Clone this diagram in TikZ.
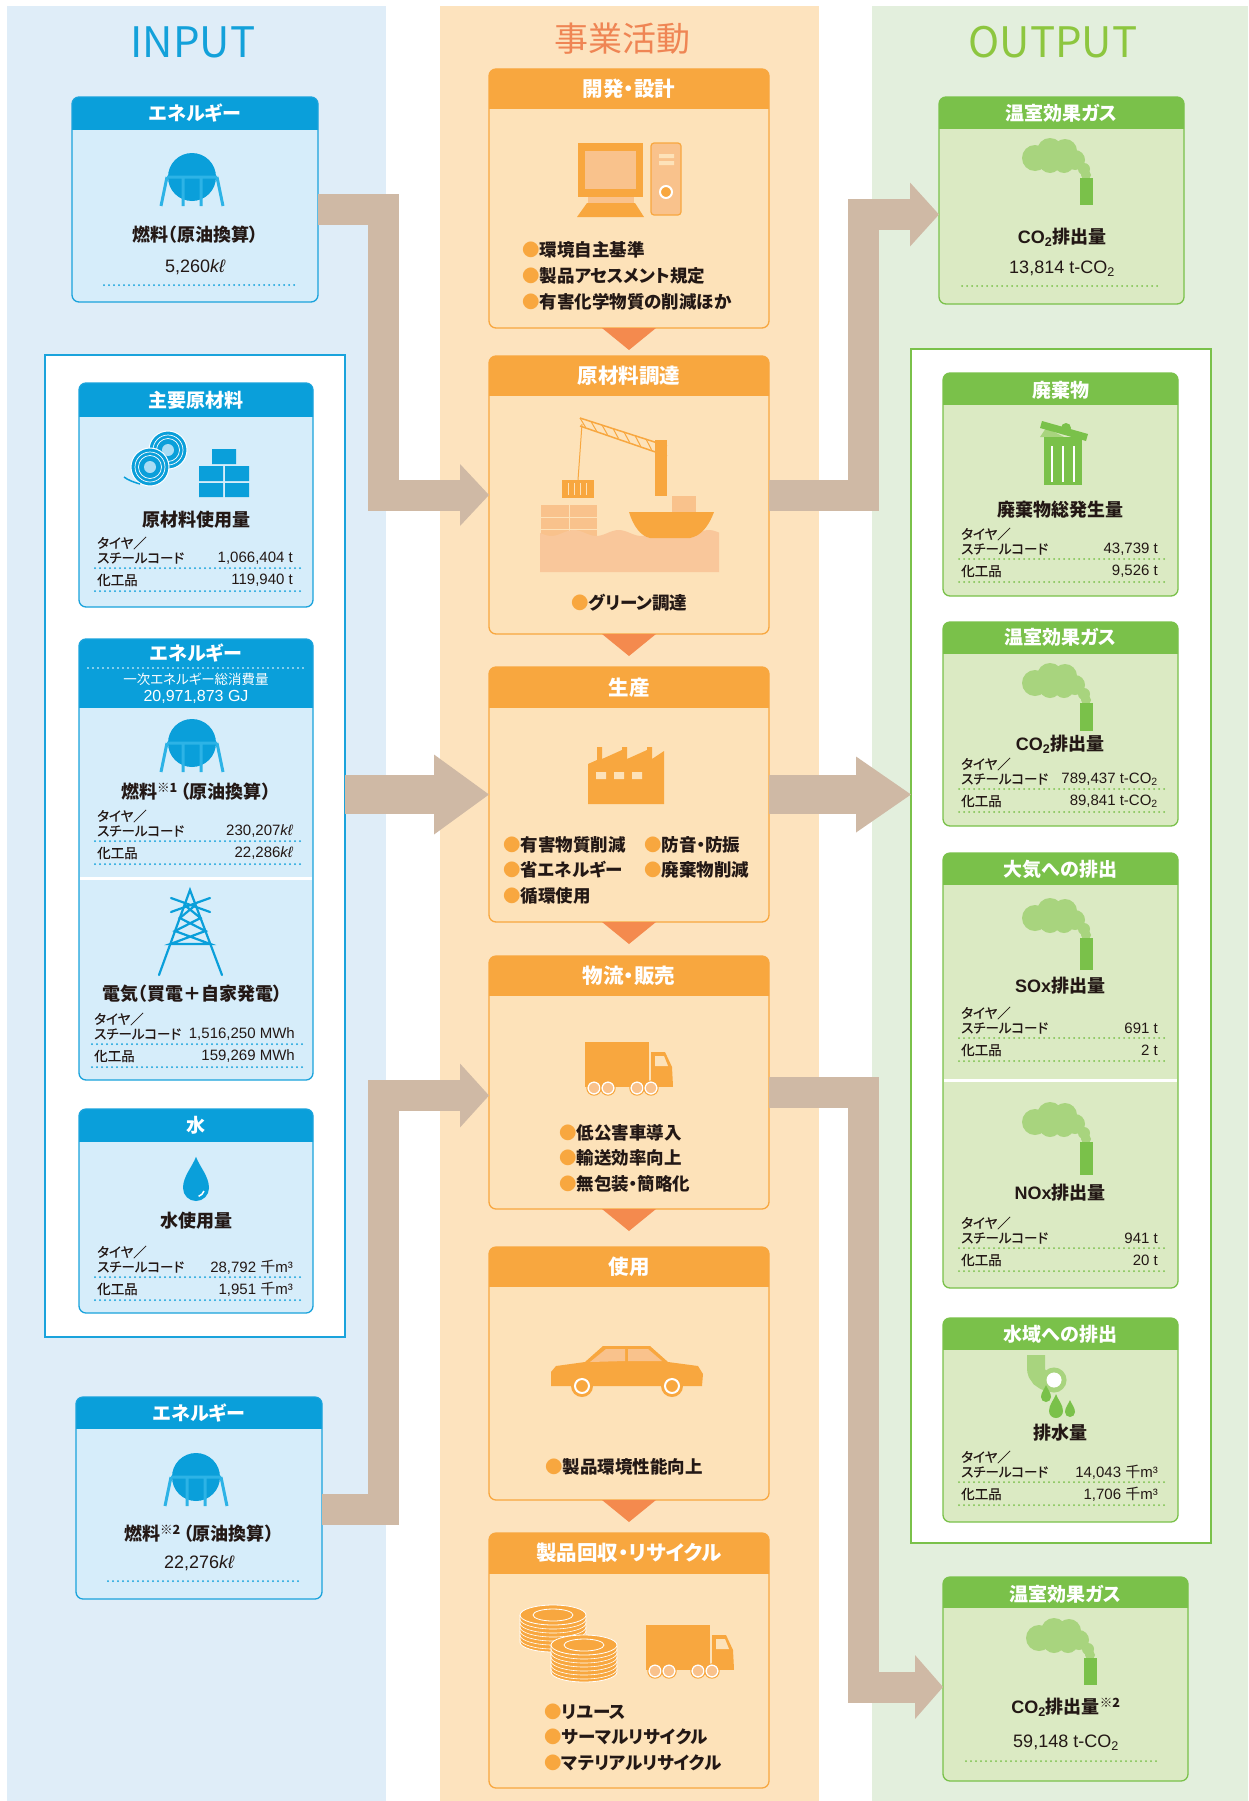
\documentclass[tikz,border=0pt]{standalone}
\usepackage{fontspec}
\setmainfont{Noto Sans CJK JP}[RawFeature={+palt}]
\newfontfamily\jp{Noto Sans CJK JP}[RawFeature={+palt}]
\newfontfamily\jpmed{Noto Sans CJK JP}[RawFeature={+palt}, FakeBold=0.6]
\newfontfamily\lat{Liberation Sans}

\definecolor{inbg}{HTML}{DFEDF8}
\definecolor{bluehead}{HTML}{0A9FDA}
\definecolor{bluebody}{HTML}{D6EDFA}
\definecolor{blueline}{HTML}{1AA3DC}
\definecolor{bluelite}{HTML}{A9DDF5}
\definecolor{tankleg}{HTML}{2DB3E6}
\definecolor{midbg}{HTML}{FDE3BE}
\definecolor{orghead}{HTML}{F8A73F}
\definecolor{orgbody}{HTML}{FDE2B9}
\definecolor{orgline}{HTML}{F8A73F}
\definecolor{orglite}{HTML}{F9C28C}
\definecolor{orgdark}{HTML}{F48A4E}
\definecolor{seac}{HTML}{F9C79B}
\definecolor{outbg}{HTML}{E3EFDD}
\definecolor{grnhead}{HTML}{7AC14A}
\definecolor{grnbody}{HTML}{DBEAC3}
\definecolor{grnline}{HTML}{7AC14A}
\definecolor{smoke}{HTML}{A8D47E}
\definecolor{bandc}{HTML}{CFB9A5}
\definecolor{ink}{HTML}{231815}
\definecolor{inptxt}{HTML}{13A1DA}
\definecolor{midtxt}{HTML}{EF8554}
\definecolor{outtxt}{HTML}{8DC63F}

\tikzset{
  headtext/.style={text=white, inner sep=0pt, font=\bfseries\fontsize{19}{19}\selectfont},
  blue title/.style={headtext},
  grn title/.style={headtext},
  org title/.style={headtext, font=\bfseries\fontsize{20.5}{20.5}\selectfont},
  coltitle/.style={inner sep=0pt, font=\fontsize{42}{42}\selectfont},
  sub/.style={text=ink, inner sep=0pt, font=\bfseries\fontsize{18}{18}\selectfont},
  lab/.style={text=ink, inner sep=0pt, anchor=west, font=\jpmed\fontsize{13.5}{13.5}\selectfont},
  val/.style={text=ink, inner sep=0pt, anchor=east, font=\lat\fontsize{15}{15}\selectfont},
  bigval/.style={text=ink, inner sep=0pt, font=\lat\fontsize{18}{18}\selectfont},
  item/.style={text=ink, inner sep=0pt, anchor=west, font=\bfseries\fontsize{17.5}{17.5}\selectfont},
  dotline/.style={line width=2pt, line cap=round, dash pattern=on 0pt off 5pt},
  band/.style={draw=bandc, line width=31pt},
}

\newcommand{\orgdot}{{\color{orghead}●}}
\newcommand{\note}[1]{\textsuperscript{#1}\hspace{3pt}}
% card: name, colour set, centre x, top y, width, height, header height, title offset, title
\newcommand{\card}[9]{%
  \node[minimum width=#5pt, minimum height=#6pt, inner sep=0pt, outer sep=0pt, anchor=north] (#1) at (#3,#4) {};
  \fill[#2body, rounded corners=7pt] (#1.north west) rectangle (#1.south east);
  \begin{scope}
    \clip (#1.north west) rectangle ([yshift=-#7pt]#1.north east);
    \fill[#2head, rounded corners=7pt] (#1.north west) rectangle (#1.south east);
  \end{scope}
  \draw[#2line, line width=1.3pt, rounded corners=7pt] (#1.north west) rectangle (#1.south east);
  \node[#2 title] (#1-t) at ([yshift=-#8pt]#1.north) {#9};}
% tyre/steel-cord and chemical rows: name, left x, right x, y, value 1, value 2, dot colour
\newcommand{\stats}[7]{%
  \node[lab] (#1-a) at (#2+18,#4) {タイヤ／};
  \node[lab] (#1-b) at (#2+18,#4+15) {スチールコード};
  \node[val] (#1-v) at (#3-20,#4+15) {#5};
  \draw[#7, dotline] (#2+16,#4+25) -- (#3-13,#4+25);
  \node[lab] (#1-c) at (#2+18,#4+37) {化工品};
  \node[val] (#1-w) at (#3-20,#4+37) {#6};
  \draw[#7, dotline] (#2+16,#4+48) -- (#3-13,#4+48);}
\newcommand{\tank}[2]{%
  \fill[bluehead] (#1,#2) circle[radius=24];
  \draw[tankleg, line width=3pt] (#1-25,#2) -- (#1+25,#2)
    (#1-25,#2) -- (#1-31,#2+29) (#1+25,#2) -- (#1+31,#2+29)
    (#1-9,#2) -- (#1-9,#2+29) (#1+9,#2) -- (#1+9,#2+29);}
\newcommand{\drip}[4]{%
  \fill[#4] (#1,#2-2.4*#3) .. controls (#1+0.3*#3,#2-1.6*#3) and (#1+#3,#2-0.9*#3) .. (#1+#3,#2)
    arc[start angle=0, end angle=180, radius=#3]
    .. controls (#1-#3,#2-0.9*#3) and (#1-0.3*#3,#2-1.6*#3) .. cycle;}
\newcommand{\plume}[3]{%
  \fill[smoke] (#1+13,#2+20) circle[radius=13] (#1+28,#2+13) circle[radius=13]
    (#1+43,#2+13) circle[radius=12] (#1+53,#2+22) circle[radius=10]
    (#1+28,#2+24) circle[radius=11] (#1+42,#2+25) circle[radius=10]
    (#1+62,#2+31) circle[radius=6] (#1+64,#2+37) circle[radius=5];
  \fill[grnhead] (#1+58,#2+40) rectangle (#1+71,#2+40+#3);}
\newcommand{\lorry}[2]{%
  \fill[orghead] (#1,#2) rectangle (#1+64,#2+44);
  \fill[orghead] (#1+66,#2+10) -- (#1+80,#2+10) -- (#1+87,#2+25) -- (#1+88,#2+44) -- (#1+66,#2+44) -- cycle;
  \fill[orgbody] (#1+70,#2+14) -- (#1+79,#2+14) -- (#1+83,#2+24) -- (#1+70,#2+24) -- cycle;
  \fill[orghead] (#1,#2+40) rectangle (#1+88,#2+45);
  \foreach \w in {9,23,52,66} {
    \filldraw[fill=orglite, draw=white, line width=1.6pt] (#1+\w,#2+46) circle[radius=6];
    \draw[orghead, line width=1pt] (#1+\w,#2+46) circle[radius=7.2];}}
\newcommand{\tyres}[2]{%
  \fill[orghead] (#1-33,#2+10) -- (#1-33,#2+37) arc[start angle=180, end angle=0, x radius=33, y radius=10] -- (#1+33,#2+10) -- cycle;
  \foreach \k in {1,...,6}
    \draw[white, line width=0.6pt] (#1-33,#2+10+4*\k) arc[start angle=180, end angle=0, x radius=33, y radius=10];
  \draw[white, line width=0.8pt] (#1-33,#2+10) -- (#1-33,#2+37) arc[start angle=180, end angle=0, x radius=33, y radius=10] -- (#1+33,#2+10);
  \filldraw[fill=orghead, draw=white, line width=0.8pt] (#1,#2+10) ellipse[x radius=33, y radius=10];
  \draw[white, line width=0.8pt] (#1,#2+10) ellipse[x radius=20, y radius=6];}
\newcommand{\bandhead}[3]{\fill[bandc] (#1) -- ++(-#2,-#3) -- ++(0,2*#3) -- cycle;}

\begin{document}
\begin{tikzpicture}[x=1pt, y=-1pt]
\useasboundingbox (0,0) rectangle (1248,1801);
\fill[white] (0,0) rectangle (1248,1801);
% three columns
\fill[inbg] (7,6) rectangle (386,1801);
\fill[midbg] (440,6) rectangle (819,1801);
\fill[outbg] (872,6) rectangle (1248,1801);
\node[coltitle, text=inptxt] (intitle) at (193,42) {INPUT};
\node[coltitle, text=midtxt, font=\fontsize{34}{34}\selectfont] (midtitle) at (622,39) {事業活動};
\node[coltitle, text=outtxt] (outtitle) at (1053,42) {OUTPUT};

\node[draw=blueline, line width=1.6pt, fill=white, inner sep=0pt, outer sep=0pt, anchor=north west,
  minimum width=300pt, minimum height=982pt] (grp) at (45,355) {};
\node[draw=grnline, line width=1.6pt, fill=white, inner sep=0pt, outer sep=0pt, anchor=north west,
  minimum width=300pt, minimum height=1194pt] (gout) at (911,349) {};

%% INPUT
\card{ene1}{blue}{195}{97}{246}{205}{32}{16}{エネルギー}
\tank{192}{177}
\node[sub] (ene1-s) at (195,235) {燃料（原油換算）};
\node[bigval] (ene1-v) at (195,267) {5,260{\itshape kℓ}};
\draw[bluehead, dotline] (104,285) -- (298,285);

\card{mat}{blue}{196}{383}{234}{224}{33}{17}{主要原材料}
\foreach \cx/\cy in {168/450, 150/467} {
  \filldraw[fill=bluehead, draw=white, line width=1pt] (\cx,\cy) circle[radius=19];
  \draw[white, line width=0.7pt] (\cx,\cy) circle[radius=15] (\cx,\cy) circle[radius=11.5];
  \fill[bluelite] (\cx,\cy) circle[radius=6];}
\draw[bluehead, line width=1.5pt] (140,484) .. controls (133,482) and (128,480) .. (124,477);
\fill[bluehead] (212,449) rectangle (236,464) (199,466) rectangle (223,481) (225,466) rectangle (249,481)
  (199,483) rectangle (223,497) (225,483) rectangle (249,497);
\node[sub] (mat-s) at (196,520) {原材料使用量};
\stats{mat}{79}{313}{543}{1,066,404 t}{119,940 t}{bluehead}

\card{ene2}{blue}{196}{639}{234}{441}{68}{14}{エネルギー}
\draw[white, dotline, line width=1.6pt] (88,668) -- (304,668);
\node[headtext, font=\fontsize{13.5}{13.5}\selectfont] (ene2-p) at (196,679) {一次エネルギー総消費量};
\node[headtext, font=\lat\fontsize{16}{16}\selectfont] (ene2-g) at (196,697) {20,971,873 GJ};
\tank{192}{743}
\node[sub] (ene2-s) at (196,792) {燃料\note{※1}（原油換算）};
\stats{ene2f}{79}{313}{816}{230,207{\itshape kℓ}}{22,286{\itshape kℓ}}{bluehead}
\draw[white, line width=3pt] (80,878) -- (312,878);
\begin{scope}[bluehead, line width=2.2pt, line cap=round]
  \draw (159,975) -- (190,890) -- (222,975);
  \draw (171,898) -- (210,912) (171,912) -- (210,898);
  \draw (184.5,905) -- (200.5,918) -- (175,931) -- (210.3,944) -- (170.3,944) -- (205.4,931) -- (179.8,918) -- (195.6,905);
\end{scope}
\node[sub] (ene2-e) at (192,994) {電気（買電＋自家発電）};
\stats{ene2e}{76}{315}{1019}{1,516,250 MWh}{159,269 MWh}{bluehead}

\card{wtr}{blue}{196}{1109}{234}{204}{32}{16}{水}
\drip{196}{1188}{13}{bluehead}
\draw[white, line width=1.5pt] (204,1191) arc[start angle=20, end angle=70, radius=9];
\node[sub] (wtr-s) at (196,1221) {水使用量};
\stats{wtr}{79}{313}{1252}{28,792 {\jp 千}m³}{1,951 {\jp 千}m³}{bluehead}

\card{ene3}{blue}{199}{1397}{246}{202}{31}{16}{エネルギー}
\tank{196}{1477}
\node[sub] (ene3-s) at (199,1534) {燃料\note{※2}（原油換算）};
\node[bigval] (ene3-v) at (199,1563) {22,276{\itshape kℓ}};
\draw[bluehead, dotline] (108,1581) -- (302,1581);

%% business activities
\card{dev}{org}{629}{69}{280}{259}{39}{20}{開発・設計}
\fill[orghead] (578,143) rectangle (643,197);
\fill[orglite] (585,151) rectangle (636,189);
\fill[orglite] (588,197) rectangle (634,203);
\fill[orghead] (587,203) -- (635,203) -- (644,217) -- (577,217) -- cycle;
\filldraw[fill=orglite, draw=orghead, line width=1.2pt, rounded corners=3pt] (651,143) rectangle (681,215);
\fill[orgbody] (659,154) rectangle (674,158) (659,161) rectangle (674,165);
\filldraw[fill=orghead, draw=white, line width=2pt] (666,192) circle[radius=6];
\node[item] (dev-a) at (522,250) {\orgdot 環境自主基準};
\node[item] (dev-b) at (522,276) {\orgdot 製品アセスメント規定};
\node[item] (dev-c) at (522,302) {\orgdot 有害化学物質の削減ほか};

\card{buy}{org}{629}{356}{280}{278}{39}{20}{原材料調達}
\fill[orglite] (541,505) rectangle (597,541);
\draw[orgbody, line width=1pt] (541,517) -- (597,517) (541,529) -- (597,529) (569,505) -- (569,541);
\fill[seac] plot[domain=540:719, samples=60] (\x,{533+3*sin(8*\x)}) -- (719,572) -- (540,572) -- cycle;
\fill[orglite] (672,496) rectangle (696,512);
\fill[orghead] (629,512) -- (714,512) .. controls (708,528) and (700,536) .. (690,538) -- (650,538) .. controls (640,536) and (633,525) .. cycle;
\fill[orghead] (655,440) rectangle (667,496);
\draw[orghead, line width=1.5pt] (580,418) -- (667,446) (580,426) -- (667,456);
\foreach \t in {0,1,...,7}
  \draw[orghead, line width=1pt] (580+11*\t,418+3.5*\t) -- (585.5+11*\t,427.2+3.75*\t);
\draw[orghead, line width=1pt] (582,424) -- (578,480);
\fill[orghead] (562,480) rectangle (594,498);
\foreach \s in {568,574,...,590} \draw[orgbody, line width=0.8pt] (\s,483) -- (\s,495);
\node[item] (buy-a) at (571,603) {\orgdot グリーン調達};

\card{mfg}{org}{629}{667}{280}{255}{40}{21}{生産}
\fill[orghead] (588,804) -- (588,764) -- (597,760) -- (597,747) -- (602,747) -- (602,759) -- (622,750)
  -- (622,747) -- (627,747) -- (627,759) -- (647,750) -- (647,747) -- (652,747) -- (652,759) -- (664,751) -- (664,804) -- cycle;
\fill[orgbody] (596,772) rectangle (606,779) (614,772) rectangle (624,779) (632,772) rectangle (642,779);
\node[item] (mfg-a) at (503,845) {\orgdot 有害物質削減};
\node[item] (mfg-b) at (644,845) {\orgdot 防音・防振};
\node[item] (mfg-c) at (503,870) {\orgdot 省エネルギー};
\node[item] (mfg-d) at (644,870) {\orgdot 廃棄物削減};
\node[item] (mfg-e) at (503,896) {\orgdot 循環使用};

\card{log}{org}{629}{956}{280}{253}{39}{20}{物流・販売}
\lorry{585}{1042}
\node[item] (log-a) at (559,1133) {\orgdot 低公害車導入};
\node[item] (log-b) at (559,1158) {\orgdot 輸送効率向上};
\node[item] (log-c) at (559,1184) {\orgdot 無包装・簡略化};

\card{use}{org}{629}{1247}{280}{253}{39}{20}{使用}
\fill[orghead] (551,1372) -- (556,1366) -- (585,1362) -- (603,1346) -- (650,1346) -- (668,1362) -- (698,1366)
  -- (703,1374) -- (702,1386) -- (551,1386) -- cycle;
\fill[orglite] (606,1349) -- (625,1349) -- (625,1361) -- (590,1362) -- cycle
  (628,1349) -- (648,1349) -- (662,1361) -- (628,1361) -- cycle;
\foreach \w in {582,672} {
  \fill[orghead] (\w,1386) circle[radius=11];
  \draw[white, line width=2pt] (\w,1386) circle[radius=7];}
\node[item] (use-a) at (545,1467) {\orgdot 製品環境性能向上};

\card{rcy}{org}{629}{1533}{280}{255}{40}{20}{製品回収・リサイクル}
\tyres{553}{1605}
\tyres{584}{1635}
\lorry{646}{1625}
\node[item] (rcy-a) at (544,1712) {\orgdot リユース};
\node[item] (rcy-b) at (544,1737) {\orgdot サーマルリサイクル};
\node[item] (rcy-c) at (544,1763) {\orgdot マテリアルリサイクル};

\foreach \b in {dev,buy,mfg,log,use}
  \fill[orgdark] ([xshift=-27pt]\b.south) -- ([xshift=27pt]\b.south) -- ([yshift=-22pt]\b.south) -- cycle;

%% OUTPUT
\card{ghg1}{grn}{1061.5}{97}{245}{207}{31}{16}{温室効果ガス}
\plume{1022}{138}{27}
\node[sub] (ghg1-s) at (1062,237) {{\lat CO\textsubscript{2}}排出量};
\node[bigval] (ghg1-v) at (1062,269) {13,814 t-CO\textsubscript{2}};
\draw[grnhead, dotline] (962,286) -- (1157,286);

\card{wst}{grn}{1060.5}{373}{235}{223}{31}{17}{廃棄物}
\fill[smoke] (1040,437) -- (1064,437) -- (1046,428) -- cycle;
\fill[grnhead] (1044,437) rectangle (1082,485);
\draw[white, line width=1.2pt] (1052,446) -- (1052,482) (1063,446) -- (1063,482) (1074,446) -- (1074,482);
\fill[grnhead] (1042,421) -- (1088,434) -- (1086,441) -- (1040,428) -- cycle;
\fill[grnhead] (1066,428) circle[radius=5];
\node[sub] (wst-s) at (1060,510) {廃棄物総発生量};
\stats{wst}{943}{1178}{534}{43,739 t}{9,526 t}{grnhead}

\card{ghg2}{grn}{1060.5}{622}{235}{204}{31}{15}{温室効果ガス}
\plume{1022}{663}{28}
\node[sub] (ghg2-s) at (1060,744) {{\lat CO\textsubscript{2}}排出量};
\stats{ghg2}{943}{1178}{764}{789,437 t-CO\textsubscript{2}}{89,841 t-CO\textsubscript{2}}{grnhead}

\card{air}{grn}{1060.5}{853}{235}{435}{31}{16}{大気への排出}
\plume{1022}{898}{32}
\node[sub] (air-s) at (1060,986) {{\lat SOx}排出量};
\stats{airs}{943}{1178}{1013}{691 t}{2 t}{grnhead}
\draw[white, line width=3pt] (944,1080) -- (1177,1080);
\plume{1022}{1102}{33}
\node[sub] (air-n) at (1060,1193) {{\lat NOx}排出量};
\stats{airn}{943}{1178}{1223}{941 t}{20 t}{grnhead}

\card{wat}{grn}{1060.5}{1318}{235}{204}{31}{16}{水域への排出}
\draw[smoke, line width=18pt] (1036,1355) -- (1036,1368) arc[start angle=180, end angle=90, radius=14];
\draw[smoke, line width=5pt] (1054,1380) circle[radius=10];
\fill[white] (1054,1380) circle[radius=7.5];
\drip{1046}{1397}{5}{grnhead}
\drip{1056}{1411}{7}{grnhead}
\drip{1070}{1412}{5}{grnhead}
\node[sub] (wat-s) at (1060,1433) {排水量};
\stats{wat}{943}{1178}{1457}{14,043 {\jp 千}m³}{1,706 {\jp 千}m³}{grnhead}

\card{ghg3}{grn}{1065.5}{1577}{245}{204}{30}{17}{温室効果ガス}
\plume{1026}{1618}{27}
\node[sub] (ghg3-s) at (1066,1707) {{\lat CO\textsubscript{2}}排出量\textsuperscript{※2}};
\node[bigval] (ghg3-v) at (1066,1743) {59,148 t-CO\textsubscript{2}};
\draw[grnhead, dotline] (966,1761) -- (1160,1761);

%% flows
\draw[band, shorten >=20pt] ([yshift=-10pt]ene1.east) -- ++(65,0) |- (buy.west);
\bandhead{buy.west}{29}{31}
\draw[band, line width=39pt, shorten >=30pt] (grp.east |- mfg.west) -- (mfg.west);
\bandhead{mfg.west}{55}{40}
\draw[band, shorten >=20pt] ([yshift=-11pt]ene3.east) -- ++(61,0) |- ([yshift=-13pt]log.west);
\bandhead{[yshift=-13pt]log.west}{29}{32}
\draw[band, shorten >=20pt] (buy.east) -- ++(94,0) |- ([yshift=-14pt]ghg1.west);
\bandhead{[yshift=-14pt]ghg1.west}{29}{32}
\draw[band, line width=39pt, shorten >=30pt] (mfg.east) -- (gout.west |- mfg.east);
\bandhead{gout.west |- mfg.east}{55}{38}
\draw[band, shorten >=20pt] ([yshift=-10pt]log.east) -- ++(94,0) |- ([yshift=-8pt]ghg3.west);
\bandhead{[yshift=-8pt]ghg3.west}{28}{32}
\end{tikzpicture}
\end{document}
